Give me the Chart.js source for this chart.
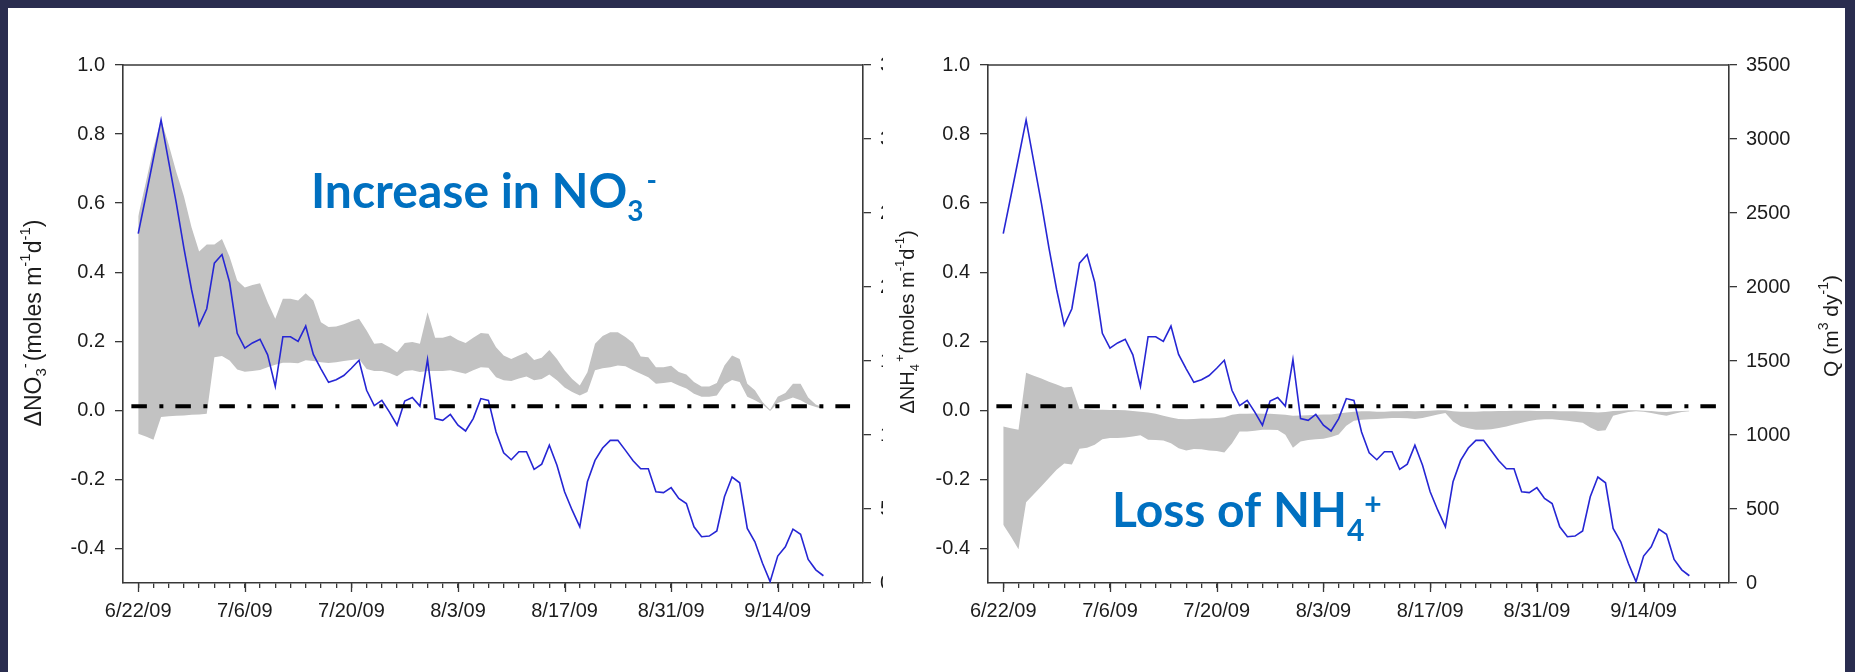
<!DOCTYPE html>
<html>
<head>
<meta charset="utf-8">
<title>Stream nitrogen change and discharge, summer 2009</title>
<script src="https://cdn.jsdelivr.net/npm/chart.js@4.4.1/dist/chart.umd.min.js"></script>
<style>
  html, body { margin: 0; padding: 0; background: #ffffff; }
  body { position: relative; width: 1855px; height: 672px; overflow: hidden; }
  canvas { position: absolute; top: 0; }
  #no3Chart { left: 0; }
  #nh4Chart { left: 883px; background: #ffffff; }
  .edge { position: absolute; background: #2a2d4f; z-index: 2; }
</style>
</head>
<body>
<canvas id="no3Chart" width="930" height="672" style="width:930px;height:672px"></canvas>
<canvas id="nh4Chart" width="972" height="672" style="width:972px;height:672px"></canvas>
<div class="edge" style="left:0;top:0;width:1855px;height:8px"></div>
<div class="edge" style="left:0;top:0;width:8px;height:672px"></div>
<div class="edge" style="left:1845px;top:0;width:10px;height:672px"></div>
<script>
// ---- data: one value per day, starting 6/22/09 ----
const startDate = '6/22/09';
const tickLabels = ['6/22/09', '7/6/09', '7/20/09', '8/3/09', '8/17/09', '8/31/09', '9/14/09'];
const yTickValues = [-0.4, -0.2, 0.0, 0.2, 0.4, 0.6, 0.8, 1.0];
const qTickValues = [0, 500, 1000, 1500, 2000, 2500, 3000, 3500];

// discharge Q (m3 per day)
const flowQ = [
  2361, 2613, 2870, 3129, 2847, 2567, 2263, 1983, 1741, 1853,
  2161, 2219, 2032, 1687, 1587, 1622, 1647, 1542, 1328, 1664,
  1664, 1633, 1736, 1545, 1447, 1356, 1374, 1402, 1451, 1505,
  1302, 1199, 1234, 1155, 1066, 1230, 1253, 1195, 1510, 1111,
  1099, 1139, 1066, 1027, 1111, 1246, 1234, 1020, 880, 833,
  887, 887, 768, 803, 931, 796, 616, 492, 380, 684,
  828, 912, 964, 964, 896, 826, 772, 772, 616, 611,
  644, 572, 537, 380, 313, 317, 352, 583, 716, 677,
  369, 278, 133, 9, 182, 245, 364, 329, 159, 89,
  49
];

// change in nitrate flux, upper and lower bounds (moles m-1 d-1)
const no3Upper = [
  0.562, 0.66, 0.76, 0.842, 0.77, 0.69, 0.62, 0.53, 0.46, 0.48,
  0.48, 0.496, 0.445, 0.376, 0.356, 0.363, 0.368, 0.313, 0.265, 0.323,
  0.323, 0.318, 0.339, 0.318, 0.255, 0.241, 0.243, 0.249, 0.258, 0.265,
  0.231, 0.193, 0.195, 0.183, 0.168, 0.195, 0.198, 0.193, 0.284, 0.21,
  0.21, 0.217, 0.204, 0.195, 0.21, 0.224, 0.222, 0.183, 0.159, 0.149,
  0.159, 0.168, 0.146, 0.152, 0.175, 0.149, 0.116, 0.091, 0.072, 0.11,
  0.193, 0.215, 0.226, 0.226, 0.212, 0.195, 0.156, 0.154, 0.125, 0.125,
  0.129, 0.111, 0.104, 0.082, 0.069, 0.069, 0.079, 0.13, 0.159, 0.149,
  0.077, 0.058, 0.024, 0.002, 0.039, 0.05, 0.077, 0.077, 0.037, 0.017,
  0.008
];
const no3Lower = [
  -0.068, -0.076, -0.085, -0.019, -0.017, -0.016, -0.015, -0.013, -0.012, -0.01,
  0.154, 0.157, 0.144, 0.118, 0.112, 0.114, 0.117, 0.125, 0.132, 0.138,
  0.138, 0.136, 0.145, 0.143, 0.139, 0.137, 0.139, 0.143, 0.146, 0.149,
  0.12, 0.114, 0.114, 0.108, 0.099, 0.114, 0.116, 0.111, 0.114, 0.114,
  0.114, 0.116, 0.111, 0.106, 0.116, 0.125, 0.123, 0.096, 0.087, 0.085,
  0.092, 0.098, 0.087, 0.091, 0.104, 0.087, 0.066, 0.053, 0.043, 0.053,
  0.116, 0.122, 0.125, 0.13, 0.128, 0.116, 0.106, 0.096, 0.077, 0.079,
  0.082, 0.072, 0.063, 0.048, 0.039, 0.039, 0.043, 0.075, 0.088, 0.082,
  0.039, 0.029, 0.017, -0.002, 0.021, 0.029, 0.037, 0.029, 0.017, 0.01,
  0.004
];

// change in ammonium flux, upper and lower bounds (moles m-1 d-1)
const nh4Upper = [
  -0.047, -0.052, -0.056, 0.109, 0.1, 0.092, 0.083, 0.075, 0.066, 0.068,
  0.004, 0.003, 0.002, 0.002, 0.001, 0.001, 0.0, -0.002, -0.004, -0.006,
  -0.01, -0.016, -0.021, -0.025, -0.026, -0.025, -0.024, -0.024, -0.022, -0.02,
  -0.013, -0.01, -0.01, -0.009, -0.01, -0.01, -0.011, -0.013, -0.016, -0.015,
  -0.014, -0.013, -0.012, -0.012, -0.009, -0.006, -0.004, -0.003, -0.003, -0.004,
  -0.004, -0.003, -0.003, -0.002, -0.003, -0.002, -0.001, 0.0, 0.0, -0.003,
  -0.004, -0.004, -0.004, -0.003, -0.003, -0.002, -0.002, -0.001, -0.001, -0.001,
  -0.002, -0.002, -0.002, -0.003, -0.003, -0.003, -0.004, -0.005, -0.006, -0.005,
  -0.002, -0.001, 0.0, 0.0, -0.001, -0.002, -0.004, -0.005, -0.003, -0.002,
  -0.001
];
const nh4Lower = [
  -0.331, -0.365, -0.402, -0.266, -0.243, -0.22, -0.196, -0.172, -0.154, -0.157,
  -0.111, -0.108, -0.1, -0.084, -0.08, -0.08, -0.079, -0.076, -0.072, -0.085,
  -0.086, -0.087, -0.095, -0.11, -0.116, -0.112, -0.113, -0.116, -0.118, -0.122,
  -0.096, -0.061, -0.061, -0.059, -0.056, -0.056, -0.057, -0.071, -0.108, -0.09,
  -0.086, -0.084, -0.082, -0.077, -0.07, -0.045, -0.03, -0.027, -0.026, -0.025,
  -0.024, -0.022, -0.022, -0.023, -0.025, -0.022, -0.017, -0.012, -0.008, -0.032,
  -0.046, -0.052, -0.056, -0.056, -0.055, -0.051, -0.047, -0.041, -0.036, -0.031,
  -0.027, -0.026, -0.026, -0.028, -0.03, -0.033, -0.036, -0.05, -0.06, -0.058,
  -0.016, -0.01, -0.005, -0.003, -0.004, -0.008, -0.012, -0.016, -0.01, -0.005,
  -0.003
];

// dash-dot reference level and its extent (days after start)
const refLevel = 0.012;
const refSpan = [-0.9, 93.5];

// ---- helpers ----
function dayNumber(s) {
  const [m, d, y] = s.split('/').map(Number);
  return Date.UTC(2000 + y, m - 1, d) / 86400000;
}
const day0 = dayNumber(startDate);
const majorTickDays = tickLabels.map(s => dayNumber(s) - day0);
const minorTickDays = [];
for (let d = 0; d <= 94; d += 2) minorTickDays.push(d);

const X_MIN = -2.0, X_MAX = 95.2;
const FONT = "'Liberation Sans', Arial, sans-serif";
const AXIS_COLOR = '#383838';
const TEXT_COLOR = '#1c1c1c';
const NOTE_COLOR = '#0070c0';

function daySeries(values) { return values.map((v, i) => ({ x: i, y: v })); }

// draws a run of text pieces (sub/superscripts) optionally rotated
function drawRich(ctx, parts, x, y, angle, align) {
  ctx.save();
  ctx.translate(x, y);
  ctx.rotate(angle);
  ctx.textBaseline = 'alphabetic';
  ctx.textAlign = 'left';
  let total = 0;
  parts.forEach(p => {
    ctx.font = p.font;
    p.w = ctx.measureText(p.t).width;
    total += p.w + (p.after || 0);
  });
  let cx = align === 'center' ? -total / 2 : 0;
  parts.forEach(p => {
    ctx.font = p.font;
    ctx.fillStyle = p.color || TEXT_COLOR;
    ctx.fillText(p.t, cx + (p.before || 0), p.dy || 0);
    cx += p.w + (p.after || 0);
  });
  ctx.restore();
}

const F = size => `${size}px ${FONT}`;
const NOTE = size => `bold ${size}px Lato, 'Open Sans', sans-serif`;

// top edge of the plot box
const frameTop = {
  id: 'frameTop',
  afterDraw(chart) {
    const { ctx, chartArea } = chart;
    ctx.save();
    ctx.strokeStyle = AXIS_COLOR;
    ctx.lineWidth = 1.5;
    ctx.beginPath();
    ctx.moveTo(chartArea.left, chartArea.top);
    ctx.lineTo(chartArea.right, chartArea.top);
    ctx.stroke();
    ctx.restore();
  }
};

// longer tick marks under the labelled dates
const majorTicks = {
  id: 'majorTicks',
  afterDraw(chart) {
    const { ctx } = chart;
    const xs = chart.scales.x;
    ctx.save();
    ctx.strokeStyle = AXIS_COLOR;
    ctx.lineWidth = 1.3;
    majorTickDays.forEach(d => {
      const px = Math.round(xs.getPixelForValue(d)) + 0.5;
      ctx.beginPath();
      ctx.moveTo(px, xs.top);
      ctx.lineTo(px, xs.top + 9);
      ctx.stroke();
    });
    ctx.restore();
  }
};

function buildChart(id, cfg) {
  return new Chart(document.getElementById(id), {
    type: 'line',
    data: {
      datasets: [
        { label: 'Q', data: daySeries(flowQ), yAxisID: 'yQ',
          borderColor: '#2626d4', borderWidth: 1.6, pointRadius: 0, tension: 0, fill: false, order: 1 },
        { label: 'reference', data: [{ x: refSpan[0], y: refLevel }, { x: refSpan[1], y: refLevel }], yAxisID: 'y',
          borderColor: '#000000', borderWidth: 4, borderDash: [15.5, 12.5, 4, 12], borderCapStyle: 'butt',
          pointRadius: 0, fill: false, order: 0 },
        { label: 'upper', data: daySeries(cfg.upper), yAxisID: 'y',
          borderColor: 'rgba(0,0,0,0)', borderWidth: 0, backgroundColor: '#c2c2c2',
          pointRadius: 0, tension: 0, fill: '+1', order: 2 },
        { label: 'lower', data: daySeries(cfg.lower), yAxisID: 'y',
          borderColor: 'rgba(0,0,0,0)', borderWidth: 0, backgroundColor: '#c2c2c2',
          pointRadius: 0, tension: 0, fill: false, order: 2 }
      ]
    },
    options: {
      responsive: false,
      animation: false,
      devicePixelRatio: 1,
      layout: { padding: { top: 65, left: 0, right: 0, bottom: 0 } },
      plugins: { legend: { display: false }, tooltip: { enabled: false } },
      scales: {
        x: {
          type: 'linear', position: 'bottom', min: X_MIN, max: X_MAX,
          afterBuildTicks: s => { s.ticks = minorTickDays.map(v => ({ value: v })); },
          afterFit: s => { s.height = 89; },
          grid: { drawOnChartArea: false, tickLength: 5, color: AXIS_COLOR, tickColor: AXIS_COLOR, lineWidth: 1.3 },
          border: { color: AXIS_COLOR, width: 1.6 },
          ticks: {
            autoSkip: false, maxRotation: 0, padding: 11, color: TEXT_COLOR, font: { family: FONT, size: 20 },
            callback: v => { const k = majorTickDays.indexOf(v); return k >= 0 ? tickLabels[k] : ''; }
          }
        },
        y: {
          type: 'linear', position: 'left', min: -0.5, max: 1.0,
          afterBuildTicks: s => { s.ticks = yTickValues.map(v => ({ value: v })); },
          afterFit: s => { s.width = cfg.leftWidth; },
          grid: { drawOnChartArea: false, tickLength: 8, color: AXIS_COLOR, tickColor: AXIS_COLOR, lineWidth: 1.3 },
          border: { color: AXIS_COLOR, width: 1.6 },
          ticks: { padding: 10, color: TEXT_COLOR, font: { family: FONT, size: 20 }, callback: v => v.toFixed(1) }
        },
        yQ: {
          type: 'linear', position: 'right', min: 0, max: 3500,
          afterBuildTicks: s => { s.ticks = qTickValues.map(v => ({ value: v })); },
          afterFit: s => { s.width = cfg.rightWidth; },
          grid: { drawOnChartArea: false, tickLength: 8, color: AXIS_COLOR, tickColor: AXIS_COLOR, lineWidth: 1.3 },
          border: { color: AXIS_COLOR, width: 1.6 },
          ticks: { padding: 9, color: TEXT_COLOR, font: { family: FONT, size: 20 }, callback: v => String(v) }
        }
      }
    },
    plugins: [frameTop, majorTicks, cfg.notes]
  });
}

// ---- nitrate panel ----
buildChart('no3Chart', {
  upper: no3Upper, lower: no3Lower, leftWidth: 123, rightWidth: 67,
  notes: {
    id: 'no3Notes',
    afterDraw(chart) {
      const ctx = chart.ctx;
      drawRich(ctx, [
        { t: '\u0394NO', font: F(23) },
        { t: '3', font: F(15), dy: 5 },
        { t: '-', font: F(15), dy: -11, after: 2 },
        { t: '(moles m', font: F(23) },
        { t: '-1', font: F(15), dy: -11 },
        { t: 'd', font: F(23) },
        { t: '-1', font: F(15), dy: -11 },
        { t: ')', font: F(23) }
      ], 41, 323, -Math.PI / 2, 'center');
      drawRich(ctx, [
        { t: 'Increase in NO', font: NOTE(48), color: NOTE_COLOR },
        { t: '3', font: NOTE(28), color: NOTE_COLOR, dy: 13 },
        { t: '-', font: NOTE(28), color: NOTE_COLOR, dy: -18, before: 3 }
      ], 311, 208, 0, 'left');
    }
  }
});

// ---- ammonium panel ----
buildChart('nh4Chart', {
  upper: nh4Upper, lower: nh4Lower, leftWidth: 105, rightWidth: 126,
  notes: {
    id: 'nh4Notes',
    afterDraw(chart) {
      const ctx = chart.ctx;
      drawRich(ctx, [
        { t: '\u0394NH', font: F(20) },
        { t: '4', font: F(13), dy: 5, after: 2 },
        { t: '+', font: F(13), dy: -10, after: 1 },
        { t: '(moles m', font: F(20) },
        { t: '-1', font: F(13), dy: -10 },
        { t: 'd', font: F(20) },
        { t: '-1', font: F(13), dy: -10 },
        { t: ')', font: F(20) }
      ], 31, 322, -Math.PI / 2, 'center');
      drawRich(ctx, [
        { t: 'Q (m', font: F(21) },
        { t: '3', font: F(14), dy: -10 },
        { t: ' dy', font: F(21) },
        { t: '-1', font: F(14), dy: -10 },
        { t: ')', font: F(21) }
      ], 955, 326, -Math.PI / 2, 'center');
      drawRich(ctx, [
        { t: 'Loss of NH', font: NOTE(48), color: NOTE_COLOR },
        { t: '4', font: NOTE(30), color: NOTE_COLOR, dy: 14 },
        { t: '+', font: NOTE(30), color: NOTE_COLOR, dy: -12 }
      ], 229, 527, 0, 'left');
    }
  }
});
</script>
</body>
</html>
